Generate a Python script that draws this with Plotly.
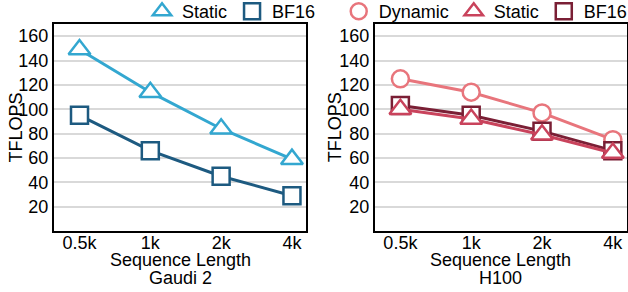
import plotly.graph_objects as go
from plotly.subplots import make_subplots

seq_labels = ["0.5k", "1k", "2k", "4k"]
y_ticks = [20, 40, 60, 80, 100, 120, 140, 160]

gaudi_static = [149, 114, 84, 59]
gaudi_bf16 = [95, 66, 45, 29]

h100_dynamic = [125, 114, 97, 75]
h100_static = [100, 92, 79, 64]
h100_bf16 = [103, 95, 82, 66]

C_G_STATIC = "#33a7d0"
C_G_BF16 = "#1d5a80"
C_H_DYN = "#e8757c"
C_H_STATIC = "#c9435c"
C_H_BF16 = "#7a1f35"

FONT = "Liberation Sans, Arial, sans-serif"

fig = make_subplots(rows=1, cols=2, horizontal_spacing=0.12)

def add_series(y, color, symbol, size, col):
    fig.add_trace(go.Scatter(
        x=seq_labels, y=y, mode="lines+markers",
        line=dict(color=color, width=3),
        marker=dict(symbol=symbol, size=size, color="white",
                    line=dict(color=color, width=2.5)),
        showlegend=False), row=1, col=col)

def add_legend(name, color, symbol, legend, rank):
    fig.add_trace(go.Scatter(
        x=[None], y=[None], mode="markers", name=name,
        marker=dict(symbol=symbol, size=18, color="white",
                    line=dict(color=color, width=2.5)),
        legend=legend, legendrank=rank, showlegend=True), row=1, col=1)

add_series(gaudi_static, C_G_STATIC, "triangle-up", 19, 1)
add_series(gaudi_bf16, C_G_BF16, "square", 17, 1)

add_series(h100_dynamic, C_H_DYN, "circle", 17, 2)
add_series(h100_bf16, C_H_BF16, "square", 17, 2)
add_series(h100_static, C_H_STATIC, "triangle-up", 19, 2)

add_legend("Static", C_G_STATIC, "triangle-up", "legend", 1)
add_legend("BF16", C_G_BF16, "square", "legend", 2)
add_legend("Dynamic", C_H_DYN, "circle", "legend2", 1)
add_legend("Static", C_H_STATIC, "triangle-up", "legend2", 2)
add_legend("BF16", C_H_BF16, "square", "legend2", 3)

axis_common = dict(showline=True, linecolor="black", linewidth=2, mirror=True,
                   ticks="", zeroline=False, automargin=False,
                   tickfont=dict(family=FONT, size=18, color="black"))

for c in (1, 2):
    fig.update_xaxes(range=[-0.36, 3.2], showgrid=False, type="category",
                     ticklabelstandoff=-6, **axis_common, row=1, col=c)
    fig.update_yaxes(range=[0, 170], tickvals=y_ticks, showgrid=True,
                     gridcolor="#d9d9d9", gridwidth=2, **axis_common, row=1, col=c)

fig.update_xaxes(domain=[0, 0.44], row=1, col=1)
fig.update_xaxes(domain=[0.56, 1.0], row=1, col=2)

ann_font = dict(family=FONT, size=18, color="black")
annotations = [
    dict(text="TFLOPS", x=-0.068, y=0.5, textangle=-90),
    dict(text="TFLOPS", x=0.490, y=0.5, textangle=-90),
    dict(text="Sequence Length", x=0.22, y=-0.138),
    dict(text="Gaudi 2", x=0.22, y=-0.228),
    dict(text="Sequence Length", x=0.78, y=-0.138),
    dict(text="H100", x=0.78, y=-0.228),
]
for a in annotations:
    fig.add_annotation(xref="paper", yref="paper", showarrow=False,
                       xanchor="center", yanchor="middle", font=ann_font, **a)

legend_common = dict(orientation="h", yanchor="middle", xanchor="right",
                     font=dict(family=FONT, size=18, color="black"),
                     bgcolor="rgba(0,0,0,0)", itemwidth=30,
                     tracegroupgap=0)
fig.update_layout(
    width=628, height=292,
    margin=dict(l=54, r=1, t=24, b=61, autoexpand=False),
    paper_bgcolor="white", plot_bgcolor="white",
    font=dict(family=FONT, size=18, color="black"),
    legend=dict(x=0.466, y=1.06, **legend_common),
    legend2=dict(x=1.01, y=1.06, **legend_common),
)

fig.write_html("out.html", config={"displayModeBar": False},
               post_script="document.body.style.margin='0';")
